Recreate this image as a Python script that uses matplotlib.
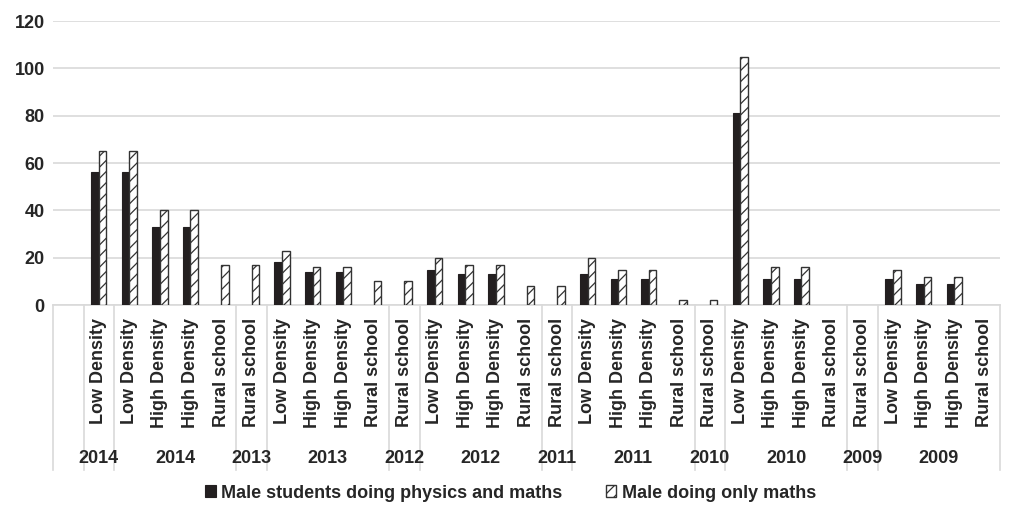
import numpy as np
import matplotlib
matplotlib.use('Agg')
import matplotlib.pyplot as plt

plt.rcParams['font.family'] = ['Liberation Sans', 'DejaVu Sans']
plt.rcParams['hatch.linewidth'] = 0.9
plt.rcParams['hatch.color'] = '#262626'

# categories (first slot is empty in the source sheet)
categories = ['',
              'Low Density',
              'Low Density', 'High Density', 'High Density', 'Rural school',
              'Rural school',
              'Low Density', 'High Density', 'High Density', 'Rural school',
              'Rural school',
              'Low Density', 'High Density', 'High Density', 'Rural school',
              'Rural school',
              'Low Density', 'High Density', 'High Density', 'Rural school',
              'Rural school',
              'Low Density', 'High Density', 'High Density', 'Rural school',
              'Rural school',
              'Low Density', 'High Density', 'High Density', 'Rural school']

# outer level: (label, number of categories)
groups = [('', 1), ('2014', 1), ('2014', 4), ('2013', 1), ('2013', 4),
          ('2012', 1), ('2012', 4), ('2011', 1), ('2011', 4),
          ('2010', 1), ('2010', 4), ('2009', 1), ('2009', 4)]

nan = np.nan
phys_maths = [nan, 56, 56, 33, 33, nan, nan, 18, 14, 14, nan, nan,
              15, 13, 13, nan, nan, 13, 11, 11, nan, nan,
              81, 11, 11, nan, nan, 11, 9, 9, nan]
only_maths = [nan, 65, 65, 40, 40, 17, 17, 23, 16, 16, 10, 10,
              20, 17, 17, 8, 8, 20, 15, 15, 2, 2,
              105, 16, 16, nan, nan, 15, 12, 12, nan]

fs = 13
txt = '#262626'

fig = plt.figure(figsize=(10.12, 5.14), dpi=100)
ax = fig.add_axes([53/1012, (514-305)/514, (1000-53)/1012, 284/514])

x = np.arange(len(categories))
w = 0.25
ax.bar(x - w/2, phys_maths, w, color='#231f20', edgecolor='#231f20',
       linewidth=0.8, label='Male students doing physics and maths', zorder=3)
ax.bar(x + w/2, only_maths, w, color='white', edgecolor='#333333',
       linewidth=1.0, hatch='///', label='Male doing only maths', zorder=3)

ax.set_xlim(-0.5, len(categories) - 0.5)
ax.set_ylim(0, 120)
ax.set_yticks(np.arange(0, 121, 20))
ax.yaxis.grid(True, color='#d9d9d9', linewidth=1.2, zorder=0)
ax.tick_params(axis='y', length=0, pad=6)
ax.set_yticklabels([str(v) for v in range(0, 121, 20)], fontsize=fs,
                   fontweight='bold', color=txt)

ax.set_xticks(x)
ax.set_xticklabels(categories, rotation=90, fontsize=fs, fontweight='bold',
                   color=txt)
ax.tick_params(axis='x', length=0, pad=9)

for s in ['top', 'right', 'left']:
    ax.spines[s].set_visible(False)
ax.spines['bottom'].set_color('#d9d9d9')
ax.spines['bottom'].set_linewidth(1.2)

# group separators and year labels
trans = ax.get_xaxis_transform()
start = -0.5
ax.plot([start, start], [0, -0.582], transform=trans, color='#d9d9d9',
        linewidth=1.2, clip_on=False)
for name, n in groups:
    end = start + n
    ax.plot([end, end], [0, -0.582], transform=trans, color='#d9d9d9',
            linewidth=1.2, clip_on=False)
    if name:
        ax.text((start + end) / 2, -0.54, name, transform=trans, ha='center',
                va='center', fontsize=fs, fontweight='bold', color=txt)
    start = end

ax.legend(loc='center', bbox_to_anchor=(0.483, -0.662), ncol=2, frameon=False,
          prop={'size': fs, 'weight': 'bold'}, handlelength=0.6,
          handleheight=0.6, handletextpad=0.3, columnspacing=2.4,
          labelcolor=txt)

fig.savefig('out.png', dpi=100)
